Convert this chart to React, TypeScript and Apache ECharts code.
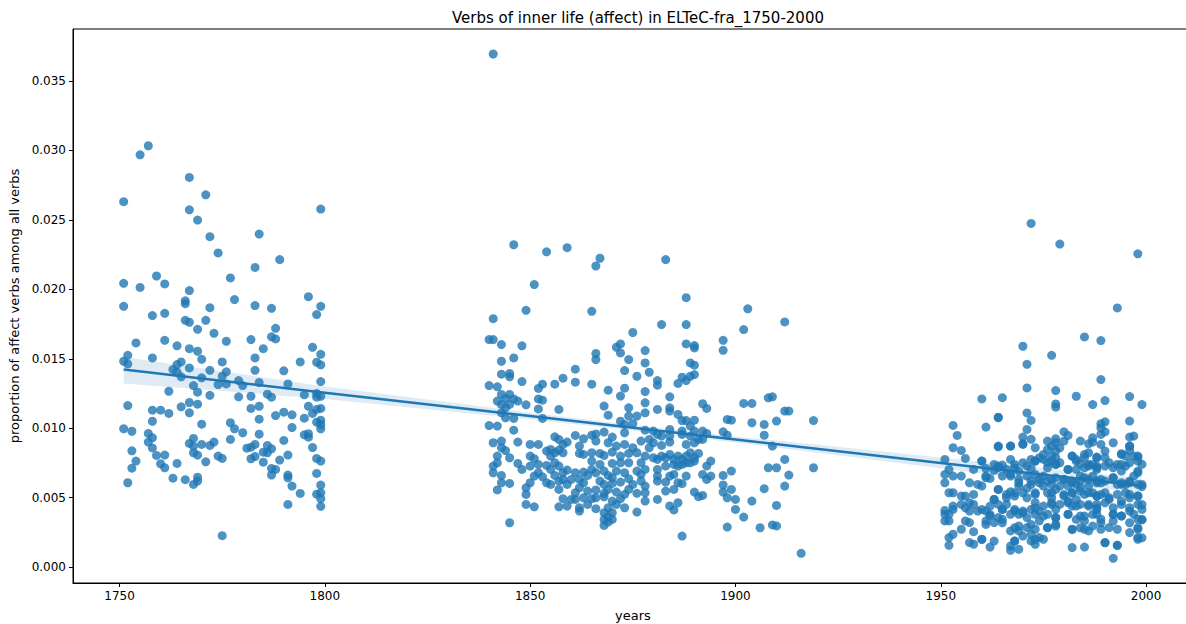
import React, { useEffect, useRef } from "react";
import * as echarts from "echarts";

const TITLE = "Verbs of inner life (affect) in ELTeC-fra_1750-2000";
const X_TICKS = [1750, 1800, 1850, 1900, 1950, 2000];
const Y_TICKS = [0, 0.005, 0.01, 0.015, 0.02, 0.025, 0.03, 0.035];

// [year, proportion]
const points1750s: number[][] = [
  [1757,0.03034],[1755,0.02969],[1767,0.02806],[1771,0.02681],[1751,0.02631],[1767,0.02573],[1799,0.02578],[1769,0.02499],[1772,0.02379],[1784,0.02398],[1774,0.02262],[1789,0.02214],[1783,0.02158],[1759,0.02096],[1777,0.02082],[1751,0.02043],[1755,0.02014],[1761,0.02039],[1767,0.01991],[1766,0.01917],[1766,0.01897],[1778,0.01926],[1796,0.01947],[1751,0.01878],[1772,0.01868],[1783,0.01883],[1787,0.01863],[1799,0.01878],[1798,0.01818],[1758,0.01811],[1761,0.01827],[1766,0.01777],[1767,0.01763],[1771,0.01777],[1769,0.01712],[1788,0.01719],
  [1773,0.01683],[1787,0.01658],[1788,0.01643],[1761,0.01633],[1776,0.01626],[1782,0.01638],[1754,0.01614],[1764,0.01593],[1767,0.01573],[1769,0.01554],[1785,0.01573],[1797,0.01583],[1799,0.01532],[1752,0.01525],[1751,0.01482],[1752,0.01463],[1758,0.01506],[1765,0.01477],[1770,0.01496],[1775,0.01477],[1783,0.01506],[1794,0.01477],[1798,0.01475],[1799,0.01456],[1764,0.01458],[1763,0.01422],[1764,0.01403],[1767,0.01434],[1772,0.01417],[1776,0.01406],[1775,0.01374],[1783,0.01417],[1790,0.01413],[1765,0.0137],[1770,0.01363],[1779,0.01343],[1784,0.01329],[1799,0.01336],[1791,0.01319],[1768,0.01307],[1774,0.01314],[1776,0.01319],[1780,0.01307],[1762,0.01266],[1769,0.01259],[1772,0.01237],[1779,0.01226],[1782,0.0123],[1786,0.01245],[1787,0.01223],[1795,0.0124],[1798,0.0125],[1798,0.01223],[1799,0.0123],[1796,0.01158],[1797,0.01106],[1799,0.01142],[1798,0.01135],[1752,0.01163],[1758,0.0113],[1760,0.0113],[1762,0.01106],[1765,0.01154],[1767,0.01185],[1767,0.01111],[1769,0.01173],[1782,0.01142],[1784,0.01158],[1790,0.01115],[1792,0.01096],[1788,0.01091],[1795,0.01072],[1784,0.01065],[1758,0.0105],[1770,0.01029],[1777,0.01039],[1799,0.01058],[1799,0.01027],[1799,0.00996],[1798,0.01043],[1792,0.01005],[1751,0.00996],[1753,0.00978],[1778,0.00996],[1780,0.00967],[1784,0.00957],[1795,0.00952],[1796,0.0096],[1796,0.00935],[1757,0.00962],[1758,0.00931],[1757,0.009],[1768,0.00926],[1767,0.0089],[1768,0.0087],[1770,0.00883],[1772,0.00876],[1773,0.009],[1777,0.00919],[1790,0.00912],[1797,0.00861],[1781,0.00856],[1782,0.00863],[1783,0.00883],[1786,0.00876],[1787,0.00852],[1785,0.00827],[1786,0.00823],[1758,0.00858],[1753,0.00837],[1759,0.00804],[1761,0.00806],[1768,0.00823],[1769,0.00806],[1774,0.00799],[1775,0.00782],[1754,0.00763],[1760,0.00744],[1761,0.00715],[1764,0.00746],[1771,0.00758],[1782,0.0078],[1783,0.00796],[1785,0.00755],[1789,0.0077],[1791,0.00806],[1798,0.00782],[1799,0.00763],[1753,0.00712],[1787,0.0071],[1788,0.00703],[1787,0.00662],[1798,0.00674],[1791,0.00662],[1791,0.00643],[1763,0.0064],[1766,0.00629],[1769,0.00647],[1769,0.00619],[1768,0.00595],[1752,0.00607],[1799,0.0059],[1792,0.00583],[1798,0.00525],[1799,0.00535],[1799,0.00492],[1799,0.00437],[1794,0.0053],[1791,0.00451],[1775,0.00226]
];

const points1850s: number[][] = [
  [1841,0.03695],[1846,0.02321],[1854,0.0227],[1859,0.023],[1867,0.02224],[1866,0.02168],[1883,0.02214],[1851,0.02034],[1888,0.0194],
  [1849,0.01849],[1865,0.01842],[1841,0.01789],[1840,0.01638],[1841,0.01638],[1843,0.01602],[1848,0.01593],[1875,0.01689],[1871,0.01583],[1872,0.01607],[1872,0.01542],[1878,0.01559],[1866,0.01538],[1866,0.01494],[1874,0.01494],[1878,0.0147],[1843,0.01482],[1846,0.01506],[1861,0.01425],[1873,0.01415],[1843,0.01389],[1845,0.01394],[1845,0.0137],[1848,0.01336],[1858,0.0136],[1861,0.01331],[1876,0.01374],[1879,0.01403],[1840,0.01307],[1842,0.01298],[1856,0.01317],[1853,0.01317],[1852,0.01286],[1865,0.01317],[1869,0.01274],[1873,0.01288],[1872,0.01231],[1878,0.01264],
  [1843,0.01243],[1845,0.01243],[1844,0.01214],[1846,0.01211],[1847,0.01195],[1842,0.01195],[1843,0.01171],[1845,0.01171],[1844,0.01147],[1849,0.01168],[1852,0.01211],[1853,0.01202],[1852,0.01139],[1857,0.01135],[1868,0.01159],[1874,0.01147],[1878,0.01183],[1843,0.01111],[1844,0.01075],[1846,0.0107],[1853,0.0107],[1869,0.01094],[1874,0.01087],[1876,0.01087],[1878,0.01111],[1872,0.0105],[1873,0.01027],[1875,0.01034],[1840,0.01019],[1842,0.01015],[1846,0.00986],[1873,0.00967],[1878,0.00986],[1856,0.00938],
  [1861,0.00948],[1863,0.00924],[1865,0.0095],[1866,0.00959],[1868,0.00972],[1870,0.00936],[1866,0.00907],[1869,0.00895],[1871,0.00871],[1873,0.00883],[1875,0.00859],[1877,0.00907],[1879,0.00919],[1841,0.00895],[1843,0.00907],[1843,0.00859],[1847,0.009],[1850,0.00883],[1852,0.00883],[1857,0.00919],[1858,0.00883],[1859,0.009],[1854,0.00835],[1855,0.00847],[1856,0.00823],[1857,0.00842],[1858,0.00823],[1855,0.00799],[1844,0.00839],[1862,0.00871],[1862,0.00818],[1863,0.00811],
  [1865,0.00823],[1867,0.00818],[1868,0.00804],[1870,0.00828],[1872,0.00799],[1874,0.00818],[1876,0.00823],[1878,0.00799],[1879,0.00859],[1842,0.00799],[1845,0.00787],[1850,0.00799],[1851,0.0078],[1865,0.00763],[1867,0.00739],[1870,0.00746],[1872,0.00751],[1874,0.00751],[1877,0.00751],[1841,0.00727],[1842,0.00751],[1847,0.00746],[1848,0.00703],[1850,0.00727],[1852,0.00739],[1854,0.00732],[1856,0.00751],[1857,0.00727],[1855,0.00703],[1858,0.00679],[1856,0.0066],[1859,0.00698],[1841,0.00679],[1843,0.0066],[1852,0.00679],[1853,0.0065],[1851,0.00655],
  [1861,0.00679],[1863,0.00684],[1864,0.0066],[1865,0.00703],[1866,0.00679],[1868,0.00691],[1869,0.0066],[1870,0.00643],[1871,0.00691],[1873,0.00679],[1874,0.00636],[1876,0.00691],[1877,0.00667],[1878,0.00703],[1862,0.00631],[1863,0.00607],[1867,0.00619],[1868,0.00595],[1870,0.00602],[1872,0.00612],[1875,0.00595],[1877,0.00619],[1878,0.00583],[1843,0.00607],[1845,0.00602],[1850,0.00607],[1854,0.00607],[1855,0.00595],[1857,0.00619],[1858,0.00631],[1859,0.00595],[1860,0.00631],
  [1842,0.00555],[1849,0.00571],[1849,0.00523],[1857,0.00559],[1861,0.00535],[1862,0.00571],[1864,0.00547],[1866,0.00555],[1868,0.00531],[1869,0.00559],[1871,0.0054],[1873,0.00523],[1874,0.00559],[1876,0.00531],[1878,0.00535],[1858,0.00492],[1860,0.00487],[1861,0.00487],[1863,0.00499],[1865,0.00492],[1866,0.00499],[1868,0.00506],[1870,0.00475],[1872,0.00492],[1849,0.00451],[1851,0.00434],[1857,0.00434],[1859,0.00439],[1862,0.00427],[1864,0.00451],[1866,0.0042],[1869,0.00427],[1871,0.00451],[1873,0.00427],[1878,0.00475],[1862,0.00403],[1868,0.00391],[1869,0.00362],[1870,0.00391],[1876,0.00396],[1868,0.00343],[1869,0.00324],[1870,0.00343],[1868,0.003],[1845,0.00319],
  [1903,0.0186],[1912,0.01765],[1882,0.01746],[1888,0.01746],[1902,0.0171],[1897,0.01633],[1897,0.01561],[1888,0.01607],[1890,0.01595],[1890,0.01578],[1889,0.0147],[1890,0.01454],[1887,0.01367],[1888,0.01343],[1889,0.01374],[1890,0.01386],[1886,0.01322],[1881,0.01343],[1881,0.0131],[1884,0.01226],[1892,0.01176],[1893,0.01142],[1902,0.01178],[1904,0.01178],[1908,0.01219],[1909,0.01226],[1912,0.01123],[1913,0.01123],[1919,0.01055],[1881,0.01135],[1884,0.01147],[1884,0.01123],[1886,0.01099],
  [1887,0.01055],[1888,0.01055],[1890,0.01058],[1889,0.01015],[1887,0.00979],[1890,0.00979],[1898,0.01063],[1899,0.01058],[1904,0.01039],[1907,0.01027],[1910,0.01051],[1907,0.0095],[1909,0.00871],[1897,0.00974],[1898,0.0095],[1892,0.00979],[1893,0.00962],[1892,0.00919],[1880,0.00979],[1881,0.00955],[1882,0.00943],[1884,0.00991],[1884,0.00943],[1884,0.009],[1887,0.00955],[1889,0.00943],[1890,0.00895],[1891,0.00919],[1888,0.00883],[1880,0.00895],[1882,0.00876],
  [1880,0.00787],[1881,0.00775],[1882,0.00799],[1883,0.00787],[1884,0.00811],[1885,0.00775],[1886,0.00799],[1887,0.00775],[1888,0.00799],[1889,0.00823],[1890,0.00787],[1891,0.00818],[1885,0.00739],[1886,0.00727],[1887,0.00739],[1888,0.00751],[1889,0.00751],[1890,0.00763],[1883,0.00727],[1881,0.00703],[1894,0.00763],[1893,0.00727],[1912,0.00775],[1908,0.00715],[1910,0.00715],[1913,0.00662],[1919,0.00715],
  [1881,0.00655],[1881,0.00619],[1884,0.00655],[1885,0.00667],[1888,0.00655],[1883,0.00612],[1886,0.00607],[1887,0.006],[1885,0.00559],[1883,0.00547],[1881,0.00487],[1892,0.00667],[1893,0.00631],[1894,0.00655],[1897,0.0066],[1899,0.00691],[1897,0.00591],[1897,0.0054],[1899,0.00559],[1898,0.00499],[1900,0.00487],[1900,0.00415],[1890,0.0054],[1891,0.00507],[1892,0.00516],[1904,0.00475],[1907,0.00564],[1912,0.00583],[1910,0.00444],[1884,0.0044],[1885,0.00411],[1886,0.00463],[1902,0.0036],[1898,0.00288],[1906,0.00283],[1909,0.00303],[1910,0.00296],[1887,0.00223],[1916,0.00099]
];

const points1950s: number[][] = [
  [1972,0.02475],[1979,0.02326],[1998,0.02256],[1993,0.01866],[1985,0.01657],[1989,0.01631],[1970,0.0159],[1977,0.01525],[1971,0.0146],[1989,0.0135],[1971,0.0129],[1978,0.01271],[1960,0.01211],[1965,0.0122],[1983,0.0123],[1990,0.01199],[1996,0.01228],[1978,0.01175],[1978,0.01151],[1987,0.0117],[1999,0.0117],[1964,0.01079],[1971,0.0111],
  [1964,0.01075],[1972,0.01056],[1953,0.0102],[1961,0.01008],[1971,0.00991],[1954,0.00948],[1970,0.00936],[1970,0.00888],[1972,0.0092],[1964,0.00866],[1967,0.00871],[1953,0.00859],[1955,0.0084],[1956,0.00782],[1951,0.00775],[1960,0.00763],[1967,0.00775],[1972,0.00775],[1973,0.00763],[1974,0.00787],
  [1952,0.00703],[1951,0.00667],[1953,0.00655],[1958,0.00703],[1961,0.0071],[1963,0.00696],[1964,0.00727],[1965,0.00734],[1966,0.00703],[1968,0.00715],[1969,0.00691],[1971,0.00727],[1972,0.0071],[1955,0.00655],[1957,0.00607],[1959,0.00595],[1960,0.00583],[1958,0.00523],[1961,0.00655],[1962,0.00638],[1965,0.00655],[1967,0.00667],[1969,0.00631],[1971,0.00655],[1973,0.00667],
  [1951,0.00607],[1952,0.00535],[1953,0.00535],[1955,0.00511],[1956,0.00511],[1957,0.00463],[1964,0.00559],[1967,0.00543],[1968,0.00511],[1969,0.00583],[1970,0.00535],[1971,0.00567],[1972,0.00595],[1973,0.00523],[1974,0.00607],[1973,0.00463],[1963,0.00487],[1962,0.00439],[1964,0.00451],[1965,0.00415],[1966,0.00499],[1966,0.00451],
  [1951,0.00408],[1951,0.0038],[1952,0.0038],[1953,0.00415],[1951,0.00332],[1952,0.00332],[1953,0.00439],[1955,0.00451],[1956,0.00427],[1957,0.00403],[1958,0.00451],[1959,0.00403],[1956,0.00332],[1957,0.0032],[1961,0.00403],[1962,0.00368],[1961,0.00332],[1963,0.0032],[1964,0.00356],[1965,0.00344],[1967,0.0038],[1968,0.00415],[1969,0.0038],[1970,0.00403],[1971,0.00356],[1972,0.00415],[1973,0.0038],[1974,0.00403],[1974,0.00332],
  [1969,0.00296],[1967,0.0026],[1969,0.0026],[1953,0.00236],[1952,0.00212],[1955,0.00272],[1958,0.00255],[1960,0.002],[1962,0.00144],[1971,0.00284],[1972,0.00236],[1972,0.00188],[1973,0.00272],[1974,0.00212],[1973,0.00164],[1952,0.00156],[1957,0.00176],[1958,0.00164],[1967,0.00152],[1967,0.00121],[1968,0.00188],[1969,0.00128],
  [1996,0.01051],[1989,0.01032],[1990,0.01046],[1989,0.01003],[1980,0.00974],[1978,0.00924],[1981,0.00948],[1984,0.00907],[1987,0.00931],[1986,0.00888],[1989,0.00955],[1990,0.00974],[1996,0.00936],[1997,0.00943],[1996,0.00871],[1996,0.0084],[1994,0.00816],[1976,0.00847],[1977,0.00871],[1978,0.00835],[1979,0.00859],
  [1982,0.00799],[1985,0.00787],[1988,0.00792],[1990,0.00835],[1990,0.00787],[1991,0.00751],[1993,0.00739],[1995,0.00799],[1997,0.00799],[1998,0.00792],[1998,0.00763],[1975,0.00775],[1977,0.00763],[1978,0.00739],[1979,0.00751],[1976,0.00715],[1983,0.00763],[1984,0.00744],[1986,0.00739],[1987,0.00739],[1988,0.00715],[1995,0.00727],[1994,0.00691],[1998,0.00679],[1997,0.00655],
  [1981,0.00703],[1984,0.00655],[1985,0.00643],[1976,0.00619],[1978,0.00643],[1980,0.00631],[1982,0.00619],[1983,0.00595],[1987,0.00655],[1988,0.00619],[1989,0.00607],[1990,0.00619],[1992,0.00643],[1993,0.00595],[1994,0.00607],[1995,0.00595],[1996,0.00619],[1998,0.00595],[1975,0.00583],[1977,0.00595],[1979,0.00583],[1981,0.00583],[1984,0.00571],[1986,0.00583],
  [1977,0.00535],[1977,0.00499],[1980,0.00511],[1982,0.00535],[1983,0.00487],[1985,0.00523],[1987,0.00535],[1988,0.00511],[1990,0.00535],[1991,0.00499],[1993,0.00523],[1995,0.00535],[1996,0.00523],[1998,0.00511],
  [1975,0.00439],[1977,0.00451],[1978,0.00415],[1981,0.00463],[1982,0.00439],[1984,0.00451],[1986,0.00439],[1988,0.00451],[1990,0.00463],[1992,0.00427],[1994,0.00451],[1996,0.00427],[1998,0.00451],
  [1976,0.0038],[1978,0.00356],[1981,0.0038],[1984,0.00368],[1985,0.00332],[1988,0.0038],[1989,0.00344],[1992,0.0038],[1994,0.00368],[1997,0.0038],[1998,0.00344],
  [1976,0.00284],[1978,0.00308],[1982,0.00272],[1985,0.00272],[1986,0.0026],[1989,0.00272],[1991,0.00284],[1993,0.00272],[1996,0.00248],[1998,0.00272],[1975,0.002],[1998,0.00212],[1998,0.002],[1982,0.0014],[1985,0.00144],[1990,0.00176],[1993,0.00156],[1992,0.00063],
  [1999,0.0074],[1999,0.0058],[1999,0.0045],[1999,0.0034],[1999,0.0021],
  [1976,0.00907],[1978,0.00895],[1980,0.00907],[1987,0.009],[1975,0.00811],[1977,0.00799],[1978,0.00787],[1976,0.00751],[1978,0.00739],[1982,0.00799],[1983,0.00775],[1985,0.00811],[1986,0.00823],[1988,0.00787],[1981,0.00703],[1983,0.00703],[1985,0.00715],[1986,0.00727],[1988,0.00703],[1975,0.00655],[1977,0.00631],[1980,0.00631],[1982,0.00607],[1984,0.00619],[1986,0.00631],[1988,0.00607],[1976,0.00535],[1978,0.00559],[1980,0.00523],[1982,0.00535],[1984,0.00547],[1986,0.00535],[1988,0.00511],[1977,0.00463],[1979,0.00451],[1981,0.00475],[1983,0.00439],[1986,0.00451],[1988,0.00427],[1975,0.00367],[1978,0.00355],[1981,0.00379],[1983,0.00343],[1985,0.00367],[1987,0.00379],[1976,0.00283],[1978,0.00295],[1982,0.00271],[1984,0.00283],[1987,0.00295],
  [1989,0.00883],[1992,0.00895],[1996,0.00871],[1994,0.00811],[1998,0.00799],[1988,0.00727],[1990,0.00727],[1992,0.00715],[1994,0.00739],[1996,0.00751],[1998,0.00691],[1989,0.00631],[1992,0.00643],[1994,0.00595],[1996,0.00607],[1999,0.00595],[1989,0.00523],[1991,0.00487],[1994,0.00475],[1996,0.00499],[1998,0.00511],[1988,0.00415],[1992,0.00379],[1994,0.00367],[1996,0.00403],[1999,0.00415],[1989,0.00319],[1992,0.00331],[1996,0.00319],[1998,0.00283],[1999,0.00343],[1990,0.00175],[1993,0.00156],
  [1964,0.00871],[1967,0.00871],[1970,0.00883],[1973,0.00859],[1960,0.00763],[1963,0.00739],[1964,0.00715],[1968,0.00739],[1970,0.00751],[1973,0.00763],[1961,0.00643],[1967,0.00655],[1969,0.00607],[1972,0.00619],[1974,0.00631],[1964,0.00559],[1963,0.00487],[1966,0.00523],[1968,0.00535],[1971,0.00499],[1973,0.00535],[1960,0.00415],[1962,0.00379],[1965,0.00415],[1968,0.00403],[1970,0.00391],[1973,0.00427],[1961,0.00307],[1965,0.00319],[1968,0.00283],[1972,0.00307],[1960,0.00199],[1963,0.00187],[1968,0.00187],[1970,0.00223],[1973,0.00199]
];

// regression line (linear fit) and its 95% confidence band
const REG_YEARS = [1751, 1800, 1850, 1875, 1900, 1950, 1999];
const REG_FIT = [0.01422, 0.01256, 0.01087, 0.01003, 0.00919, 0.0075, 0.00584];
const REG_LOWER = [0.01322, 0.01211, 0.01062, 0.00983, 0.00897, 0.00712, 0.00529];
const REG_UPPER = [0.01512, 0.01301, 0.01112, 0.01023, 0.00941, 0.00788, 0.00639];

const FONT = "DejaVu Sans";
const BLUE = "#1f77b4";

export default function App() {
  const ref = useRef<HTMLDivElement>(null);
  useEffect(() => {
    if (!ref.current) return;
    const chart = echarts.init(ref.current, undefined, { renderer: "svg" });
    const scatter = (name: string, data: number[][]) => ({
      name,
      type: "scatter",
      data,
      symbol: "circle",
      symbolSize: 9,
      itemStyle: { color: BLUE, opacity: 0.8 },
      z: 2,
    });
    const bandData = REG_YEARS.map((y, i) => [y, REG_LOWER[i], REG_UPPER[i]]);
    chart.setOption({
      animation: false,
      title: {
        text: TITLE,
        left: 633,
        top: 5,
        textAlign: "center",
        textStyle: { fontFamily: FONT, fontSize: 15, fontWeight: "normal", color: "#000" },
      },
      grid: {
        left: 73,
        top: 29,
        width: 1120,
        height: 554,
        show: true,
        borderColor: "#000",
        borderWidth: 1,
        outerBoundsMode: "none",
        containLabel: false,
      },
      xAxis: {
        type: "value",
        min: 1738.66,
        max: 2011.43,
        splitLine: { show: false },
        axisLine: { show: true, onZero: false, lineStyle: { color: "#000", width: 1 } },
        axisTick: { show: true, length: 4, customValues: X_TICKS, lineStyle: { color: "#000" } },
        axisLabel: {
          customValues: X_TICKS,
          color: "#000",
          fontSize: 12,
          fontFamily: FONT,
          margin: 7,
          formatter: (v: number) => String(Math.round(v)),
        },
        name: "years",
        nameLocation: "middle",
        nameGap: 26,
        nameTextStyle: { color: "#000", fontSize: 13, fontFamily: FONT },
      },
      yAxis: {
        type: "value",
        min: -0.00115,
        max: 0.03875,
        splitLine: { show: false },
        axisLine: { show: true, onZero: false, lineStyle: { color: "#000", width: 1 } },
        axisTick: { show: true, length: 4, customValues: Y_TICKS, lineStyle: { color: "#000" } },
        axisLabel: {
          customValues: Y_TICKS,
          color: "#000",
          fontSize: 12,
          fontFamily: FONT,
          margin: 7,
          formatter: (v: number) => v.toFixed(3),
        },
        name: "proportion of affect verbs among all verbs",
        nameLocation: "middle",
        nameGap: 52,
        nameRotate: 90,
        nameTextStyle: { color: "#000", fontSize: 13, fontFamily: FONT },
      },
      series: [
        scatter("1750s", points1750s),
        scatter("1850s", points1850s),
        scatter("1950s", points1950s),
        {
          type: "custom",
          name: "ci",
          data: [0],
          z: 3,
          renderItem: (params: any, api: any) => {
            const upper = bandData.map((d) => api.coord([d[0], d[2]]));
            const lower = bandData.map((d) => api.coord([d[0], d[1]])).reverse();
            return {
              type: "polygon",
              shape: { points: upper.concat(lower) },
              style: { fill: "rgba(31,119,180,0.15)", stroke: "none" },
            };
          },
        },
        {
          type: "line",
          name: "fit",
          data: REG_YEARS.map((y, i) => [y, REG_FIT[i]]),
          symbol: "none",
          lineStyle: { color: BLUE, width: 2.5 },
          z: 4,
        },
      ],
    });
    return () => chart.dispose();
  }, []);
  return <div ref={ref} style={{ position: "absolute", left: 0, top: 0, width: 1186, height: 624 }} />;
}
